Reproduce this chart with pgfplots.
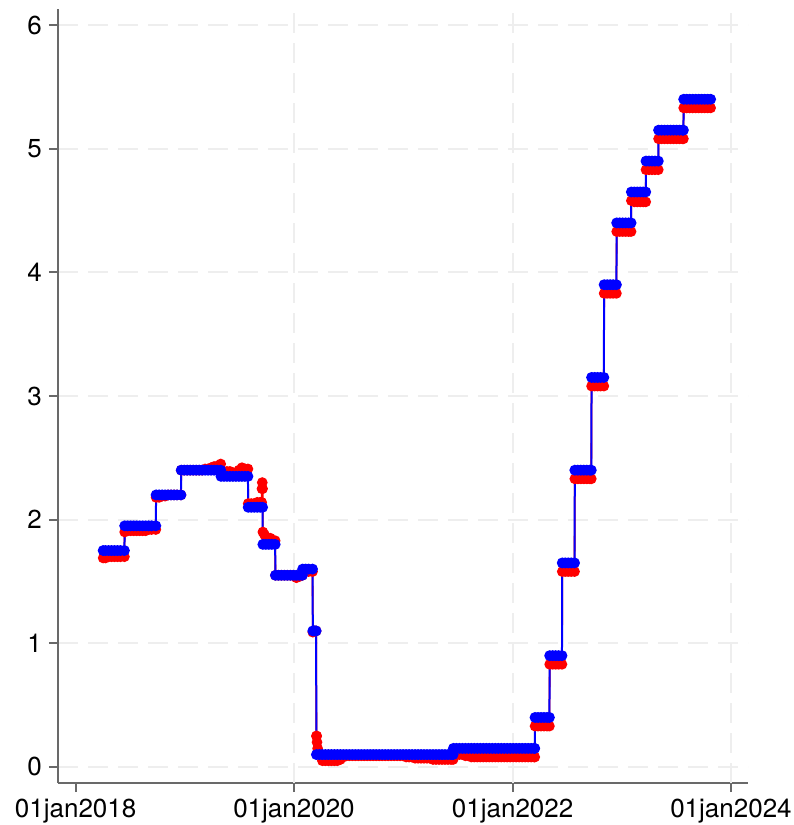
\documentclass[border=0pt]{standalone}
\usepackage{fontspec}
\setmainfont{TeX Gyre Heros}
\usepackage{pgfplots}
\pgfplotsset{compat=1.18}
\definecolor{gridc}{RGB}{238,238,238}
\definecolor{axc}{RGB}{105,105,105}
\begin{document}
\begin{tikzpicture}
\begin{axis}[name=ax, scale only axis, width=345pt, height=387pt,
 xmin=-59, xmax=2248, ymin=-0.13, ymax=6.13,
 axis lines*=left, axis line style={draw=axc, line width=1pt},
 xtick={0,730,1461,2191}, xticklabels={01jan2018,01jan2020,01jan2022,01jan2024},
 ytick={0,1,2,3,4,5,6},
 tick align=outside, major tick length=4.5pt, tick style={draw=axc, line width=1pt},
 every tick label/.append style={font=\fontsize{13}{15}\selectfont, text=black},
 /pgf/number format/assume math mode=true,
 ymajorgrids, grid style={draw=gridc, line width=0.9pt, dash pattern=on 10pt off 5pt},
 extra x ticks={730,1461,2191}, extra x tick labels={},
 extra x tick style={grid=major, major tick length=0pt},
]
% red series
\addplot[red, line width=0.9pt, mark=*, mark size=2.2pt, mark options={solid, fill=red, draw=red}] coordinates {
(92,1.69)(100,1.69)(110,1.70)(120,1.70)(130,1.70)(140,1.70)(150,1.70)(163,1.70)
(164,1.90)(174,1.91)(184,1.91)(194,1.91)(204,1.91)(214,1.91)(224,1.91)(234,1.91)(244,1.92)(254,1.92)(268,1.92)
(269,2.18)(279,2.18)(289,2.19)(299,2.19)(309,2.20)(319,2.20)(329,2.20)(339,2.20)(352,2.20)
(353,2.40)(363,2.40)(373,2.40)(383,2.40)(393,2.40)(403,2.40)(413,2.40)(423,2.40)(433,2.41)(443,2.41)(453,2.42)(463,2.43)(473,2.43)(480,2.44)(485,2.45)
(486,2.38)(496,2.38)(506,2.39)(516,2.39)(526,2.38)(536,2.38)(546,2.40)(556,2.42)(566,2.41)(576,2.41)
(577,2.13)(587,2.13)(597,2.13)(607,2.14)(617,2.14)(622,2.14)(623,2.25)(624,2.30)(625,2.25)
(626,1.90)(631,1.88)(636,1.86)(641,1.85)(646,1.83)(651,1.85)(656,1.83)(661,1.82)(667,1.83)
(668,1.55)(678,1.55)(688,1.55)(698,1.55)(708,1.55)(718,1.55)(728,1.55)(738,1.53)(748,1.54)(758,1.55)
(759,1.59)(769,1.59)(779,1.58)(792,1.58)
(793,1.09)(799,1.10)(804,1.10)
(805,0.25)(806,0.25)(807,0.20)(809,0.15)(811,0.12)(815,0.10)(825,0.05)(835,0.05)(845,0.05)(855,0.05)(865,0.05)(875,0.05)(885,0.06)(895,0.08)
(905,0.09)(915,0.09)(925,0.09)(935,0.09)(945,0.09)(955,0.09)(965,0.09)(975,0.09)(985,0.09)(995,0.09)(1005,0.09)(1015,0.09)(1025,0.09)(1035,0.09)(1045,0.09)(1055,0.09)(1065,0.09)(1075,0.09)(1085,0.09)(1095,0.09)
(1105,0.08)(1115,0.08)(1125,0.08)(1135,0.07)(1145,0.07)(1155,0.07)(1165,0.07)(1175,0.07)(1185,0.07)(1195,0.06)(1205,0.06)(1215,0.06)(1225,0.06)(1235,0.06)(1245,0.06)(1255,0.06)(1262,0.06)
(1263,0.10)(1273,0.10)(1283,0.10)(1293,0.10)(1303,0.09)(1313,0.09)(1323,0.08)(1333,0.08)(1343,0.08)(1353,0.08)(1363,0.08)(1373,0.08)(1383,0.08)(1393,0.08)(1403,0.08)(1413,0.08)(1423,0.08)(1433,0.08)(1443,0.08)(1453,0.08)(1463,0.08)(1473,0.08)(1483,0.08)(1493,0.08)(1503,0.08)(1513,0.08)(1523,0.08)(1533,0.08)(1535,0.08)
(1536,0.33)(1546,0.33)(1556,0.33)(1566,0.33)(1576,0.33)(1584,0.33)
(1585,0.83)(1595,0.83)(1605,0.83)(1615,0.83)(1626,0.83)
(1627,1.58)(1637,1.58)(1647,1.58)(1657,1.58)(1668,1.58)
(1669,2.33)(1679,2.33)(1689,2.33)(1699,2.33)(1709,2.33)(1719,2.33)(1724,2.33)
(1725,3.08)(1735,3.08)(1745,3.08)(1755,3.08)(1766,3.08)
(1767,3.83)(1777,3.83)(1787,3.83)(1797,3.83)(1808,3.83)
(1809,4.33)(1819,4.33)(1829,4.33)(1839,4.33)(1849,4.33)(1857,4.33)
(1858,4.58)(1868,4.57)(1878,4.57)(1888,4.57)(1898,4.57)(1906,4.57)
(1907,4.83)(1917,4.83)(1927,4.83)(1937,4.83)(1948,4.83)
(1949,5.08)(1959,5.08)(1969,5.08)(1979,5.08)(1989,5.08)(1999,5.08)(2009,5.08)(2019,5.08)(2029,5.08)(2032,5.08)
(2033,5.33)(2043,5.33)(2053,5.33)(2063,5.33)(2073,5.33)(2083,5.33)(2093,5.33)(2103,5.33)(2113,5.33)(2123,5.33)
};
% blue series
\addplot[blue, line width=1pt, mark=*, mark size=2.2pt, mark options={solid, fill=blue, draw=blue}] coordinates {
(92,1.75)(100,1.75)(110,1.75)(120,1.75)(130,1.75)(140,1.75)(150,1.75)(163,1.75)
(164,1.95)(174,1.95)(184,1.95)(194,1.95)(204,1.95)(214,1.95)(224,1.95)(234,1.95)(244,1.95)(254,1.95)(268,1.95)
(269,2.20)(279,2.20)(289,2.20)(299,2.20)(309,2.20)(319,2.20)(329,2.20)(339,2.20)(352,2.20)
(353,2.40)(363,2.40)(373,2.40)(383,2.40)(393,2.40)(403,2.40)(413,2.40)(423,2.40)(433,2.40)(443,2.40)(453,2.40)(463,2.40)(473,2.40)(485,2.40)
(486,2.35)(496,2.35)(506,2.35)(516,2.35)(526,2.35)(536,2.35)(546,2.35)(556,2.35)(566,2.35)(576,2.35)
(577,2.10)(587,2.10)(597,2.10)(607,2.10)(617,2.10)(625,2.10)
(626,1.80)(636,1.80)(646,1.80)(656,1.80)(667,1.80)
(668,1.55)(678,1.55)(688,1.55)(698,1.55)(708,1.55)(718,1.55)(728,1.55)(738,1.55)(748,1.55)(758,1.55)
(759,1.60)(769,1.60)(779,1.60)(792,1.60)
(793,1.10)(799,1.10)(804,1.10)
(805,0.10)(815,0.10)(825,0.10)(835,0.10)(845,0.10)(855,0.10)(865,0.10)(875,0.10)(885,0.10)(895,0.10)(905,0.10)(915,0.10)(925,0.10)(935,0.10)(945,0.10)(955,0.10)(965,0.10)(975,0.10)(985,0.10)(995,0.10)
(1005,0.10)(1015,0.10)(1025,0.10)(1035,0.10)(1045,0.10)(1055,0.10)(1065,0.10)(1075,0.10)(1085,0.10)(1095,0.10)(1105,0.10)(1115,0.10)(1125,0.10)(1135,0.10)(1145,0.10)(1155,0.10)(1165,0.10)(1175,0.10)(1185,0.10)(1195,0.10)
(1205,0.10)(1215,0.10)(1225,0.10)(1235,0.10)(1245,0.10)(1255,0.10)(1262,0.10)
(1263,0.15)(1273,0.15)(1283,0.15)(1293,0.15)(1303,0.15)(1313,0.15)(1323,0.15)(1333,0.15)(1343,0.15)(1353,0.15)(1363,0.15)(1373,0.15)(1383,0.15)(1393,0.15)(1403,0.15)(1413,0.15)(1423,0.15)(1433,0.15)(1443,0.15)(1453,0.15)
(1463,0.15)(1473,0.15)(1483,0.15)(1493,0.15)(1503,0.15)(1513,0.15)(1523,0.15)(1533,0.15)(1535,0.15)
(1536,0.40)(1546,0.40)(1556,0.40)(1566,0.40)(1576,0.40)(1584,0.40)
(1585,0.90)(1595,0.90)(1605,0.90)(1615,0.90)(1626,0.90)
(1627,1.65)(1637,1.65)(1647,1.65)(1657,1.65)(1668,1.65)
(1669,2.40)(1679,2.40)(1689,2.40)(1699,2.40)(1709,2.40)(1719,2.40)(1724,2.40)
(1725,3.15)(1735,3.15)(1745,3.15)(1755,3.15)(1766,3.15)
(1767,3.90)(1777,3.90)(1787,3.90)(1797,3.90)(1808,3.90)
(1809,4.40)(1819,4.40)(1829,4.40)(1839,4.40)(1849,4.40)(1857,4.40)
(1858,4.65)(1868,4.65)(1878,4.65)(1888,4.65)(1898,4.65)(1906,4.65)
(1907,4.90)(1917,4.90)(1927,4.90)(1937,4.90)(1948,4.90)
(1949,5.15)(1959,5.15)(1969,5.15)(1979,5.15)(1989,5.15)(1999,5.15)(2009,5.15)(2019,5.15)(2029,5.15)(2032,5.15)
(2033,5.40)(2043,5.40)(2053,5.40)(2063,5.40)(2073,5.40)(2083,5.40)(2093,5.40)(2103,5.40)(2113,5.40)(2123,5.40)
};
\end{axis}
\pgfresetboundingbox
\path ([shift={(-29pt,-21pt)}]ax.south west) rectangle ([shift={(22.5pt,4.5pt)}]ax.north east);
\end{tikzpicture}
\end{document}
